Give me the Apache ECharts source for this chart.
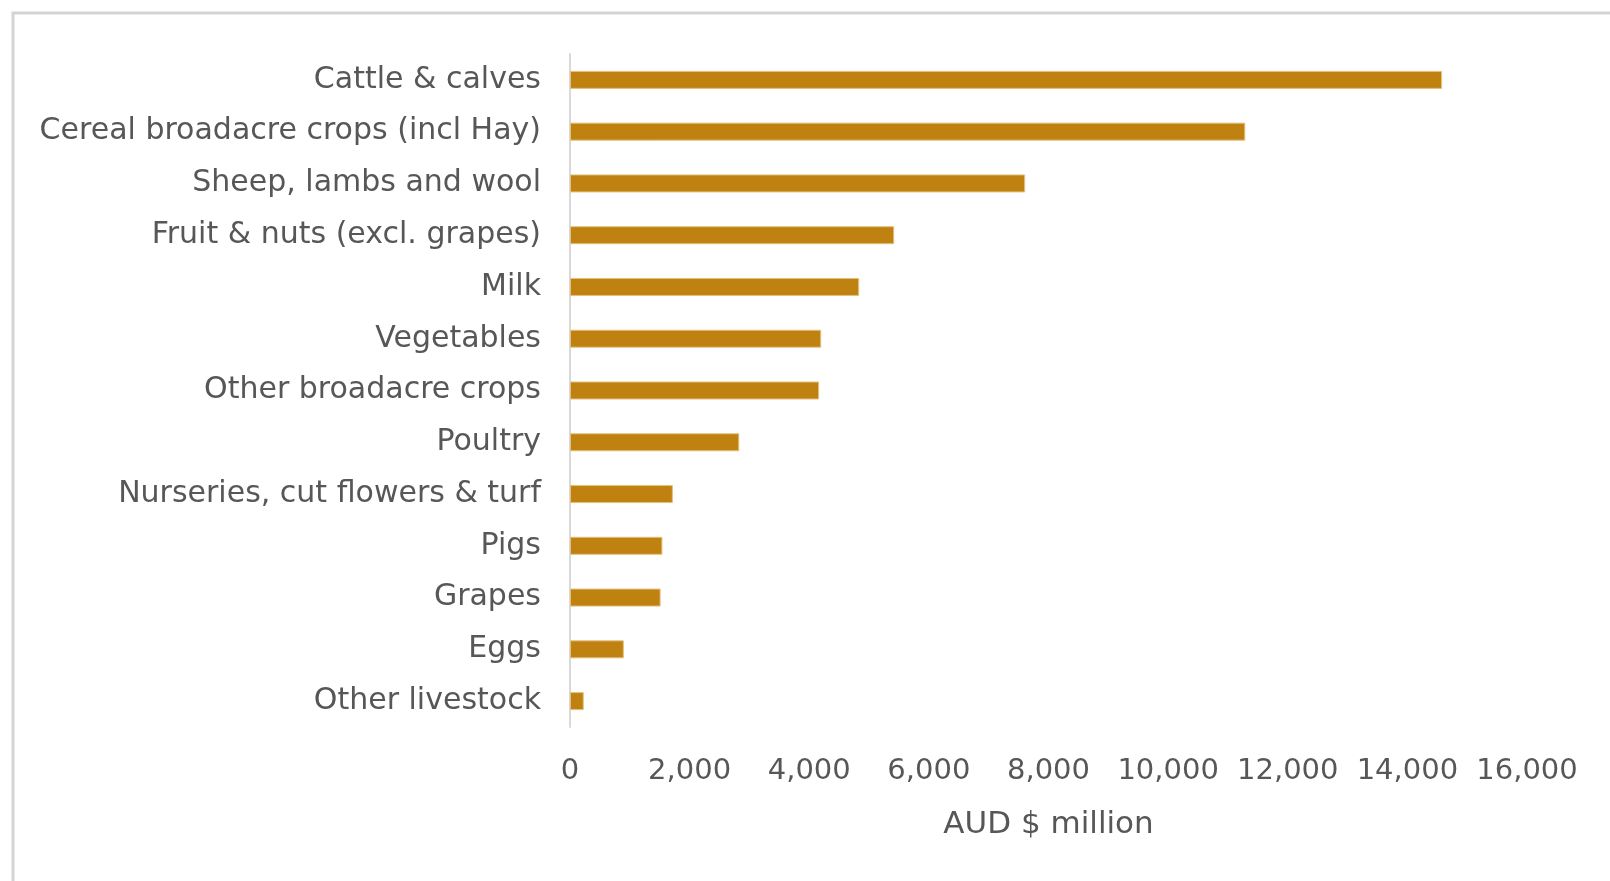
<!DOCTYPE html>
<html>
<head>
<meta charset="utf-8">
<title>Gross value of agricultural production by commodity</title>
<script src="https://cdn.jsdelivr.net/npm/echarts@6/dist/echarts.min.js"></script>
<style>
  html, body { margin: 0; padding: 0; background: #ffffff; }
  #chart { width: 1610px; height: 881px; }
</style>
</head>
<body>
<div id="chart"></div>
<script>
// Commodity groups, largest first
const commodities = [
  'Cattle & calves',
  'Cereal broadacre crops (incl Hay)',
  'Sheep, lambs and wool',
  'Fruit & nuts (excl. grapes)',
  'Milk',
  'Vegetables',
  'Other broadacre crops',
  'Poultry',
  'Nurseries, cut flowers & turf',
  'Pigs',
  'Grapes',
  'Eggs',
  'Other livestock'
];

// Value of production, AUD $ million
const values = [14580, 11290, 7610, 5420, 4835, 4200, 4165, 2830, 1720, 1545, 1515, 900, 230];

// Value axis ticks
const axisMin = 0;
const axisMax = 16000;
const axisStep = 2000;
const axisTitle = 'AUD $ million';

const chart = echarts.init(document.getElementById('chart'), null, { renderer: 'canvas' });

const textGrey = '#575757';
const font = '"DejaVu Sans", "Liberation Sans", sans-serif';

chart.setOption({
  backgroundColor: '#ffffff',
  animation: false,
  graphic: [
    {
      // chart area frame (left and top edges)
      type: 'polyline',
      silent: true,
      shape: { points: [[13, 900], [13, 13], [1620, 13]] },
      style: { stroke: '#d4d4d4', lineWidth: 3, fill: null }
    }
  ],
  grid: { left: 570, right: 83, top: 54, bottom: 154, containLabel: false },
  xAxis: {
    type: 'value',
    min: axisMin,
    max: axisMax,
    interval: axisStep,
    name: axisTitle,
    nameLocation: 'middle',
    nameGap: 82,
    nameTextStyle: { color: textGrey, fontSize: 31, fontFamily: font },
    axisLine: { show: false },
    axisTick: { show: false },
    splitLine: { show: false },
    axisLabel: {
      color: textGrey,
      fontSize: 29,
      fontFamily: font,
      margin: 30,
      formatter: v => v.toLocaleString('en-US')
    }
  },
  yAxis: {
    type: 'category',
    inverse: true,
    data: commodities,
    axisLine: { show: true, lineStyle: { color: '#d9d9d9', width: 2 } },
    axisTick: { show: false },
    splitLine: { show: false },
    axisLabel: {
      color: textGrey,
      fontSize: 30,
      fontFamily: font,
      margin: 29,
      padding: [4, 0, 0, 0]
    }
  },
  series: [
    {
      type: 'bar',
      data: values,
      barWidth: 18,
      itemStyle: {
        color: '#BF8211',
        borderColor: '#E3C07E',
        borderWidth: 1
      }
    }
  ]
});
</script>
</body>
</html>
